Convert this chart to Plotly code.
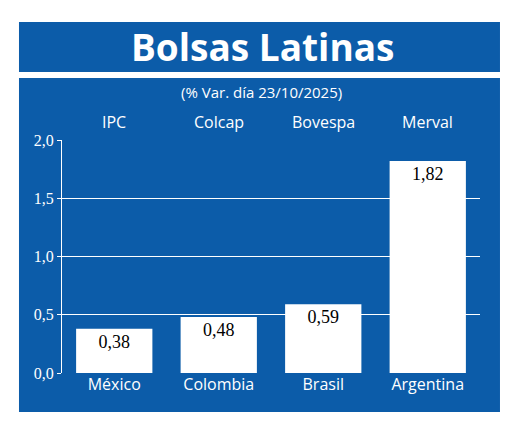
import plotly.graph_objects as go

indices = ["IPC", "Colcap", "Bovespa", "Merval"]
paises = ["México", "Colombia", "Brasil", "Argentina"]
variacion = [0.38, 0.48, 0.59, 1.82]
etiquetas = ["0,38", "0,48", "0,59", "1,82"]
y_ticks = [0, 0.5, 1.0, 1.5, 2.0]

azul = "#0c5ca9"
sans = "Open Sans"
serif = "Liberation Serif"

fig = go.Figure(go.Bar(
    x=paises, y=variacion, text=etiquetas,
    textposition="inside", insidetextanchor="end",
    textfont=dict(family=serif, size=18, color="black"),
    marker=dict(color="white", line=dict(width=0)),
    width=0.73, hoverinfo="skip",
))

# marcos azules
fig.add_shape(type="rect", xref="paper", yref="paper", x0=-0.1029, x1=1.0478,
              y0=1.2918, y1=1.5064, fillcolor=azul, line_width=0, layer="below")
fig.add_shape(type="rect", xref="paper", yref="paper", x0=-0.1029, x1=1.0478,
              y0=-0.1674, y1=1.2661, fillcolor=azul, line_width=0, layer="below")

fig.add_annotation(text="<b>Bolsas Latinas</b>", xref="paper", yref="paper",
                   x=0.48, y=1.40, yanchor="middle", showarrow=False,
                   font=dict(family=sans, size=37, color="white"))
fig.add_annotation(text="(% Var. día 23/10/2025)", xref="paper", yref="paper",
                   x=0.478, y=1.207, yanchor="middle", showarrow=False,
                   font=dict(family=sans, size=15, color="white"))
for p, nombre in zip(paises, indices):
    fig.add_annotation(text=nombre, x=p, xref="x", yref="paper", y=1.077,
                       yanchor="middle", showarrow=False,
                       font=dict(family=sans, size=16, color="white"))

fig.update_layout(
    width=512, height=420,
    margin=dict(l=54, r=40, t=132, b=55),
    paper_bgcolor="white", plot_bgcolor="rgba(0,0,0,0)",
    showlegend=False, separators=",.",
    xaxis=dict(range=[-0.5, 3.5], showgrid=False, zeroline=False, showline=False,
               ticks="", tickfont=dict(family=sans, size=16, color="white")),
    yaxis=dict(range=[0, 2.0], tickvals=y_ticks, tickformat=".1f",
               showgrid=True, gridcolor="white", gridwidth=1.2,
               zeroline=False, showline=True, linecolor="white", linewidth=1.2,
               ticks="outside", ticklen=4, tickcolor="white",
               tickfont=dict(family=serif, size=16, color="white")),
)

fig.write_html("out.html")
